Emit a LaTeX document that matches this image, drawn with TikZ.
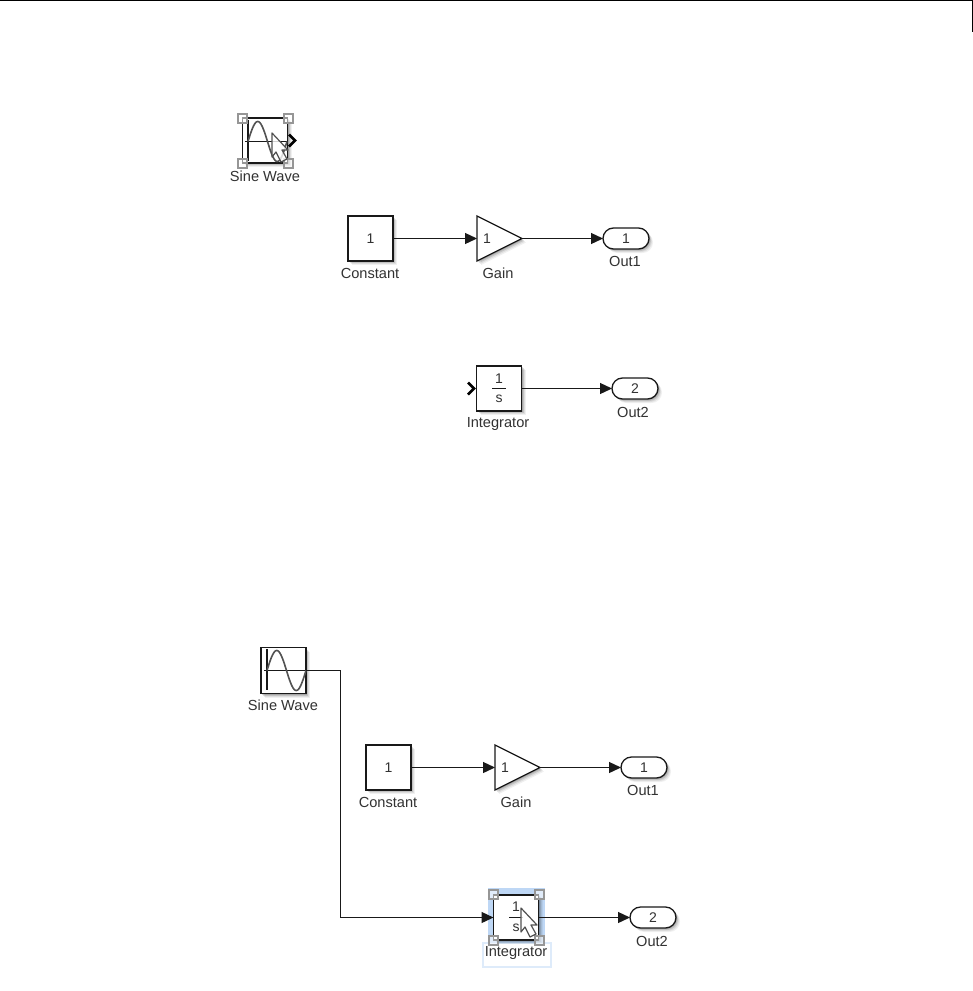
\documentclass[tikz,border=0pt]{standalone}
\usepackage{fontspec}
\setmainfont{Liberation Sans}
\usetikzlibrary{arrows.meta,shapes.geometric,shapes.misc,shadows}
\definecolor{inkc}{RGB}{25,25,25}
\definecolor{labelc}{RGB}{50,50,50}
\definecolor{handlec}{RGB}{150,150,150}
\definecolor{selblue}{RGB}{190,215,245}
\definecolor{selborder}{RGB}{222,235,250}
\tikzset{
  softshadow/.style={
    drop shadow={shadow xshift=4pt,shadow yshift=-4pt,fill=black,opacity=.06},
    drop shadow={shadow xshift=3pt,shadow yshift=-3pt,fill=black,opacity=.08},
    drop shadow={shadow xshift=2pt,shadow yshift=-2pt,fill=black,opacity=.12},
    drop shadow={shadow xshift=1pt,shadow yshift=-1pt,fill=black,opacity=.14}},
  blockbox/.style={draw=inkc,line width=1.3pt,fill=white,rectangle,inner sep=0pt,outer sep=0pt,
    minimum width=45pt,minimum height=45pt,softshadow,font=\fontsize{14}{16}\selectfont,text=labelc},
  gainbox/.style={draw=inkc,line width=1.3pt,fill=white,isosceles triangle,isosceles triangle stretches,
    inner sep=0pt,outer sep=0pt,minimum width=45pt,minimum height=45pt,anchor=apex,softshadow},
  portbox/.style={draw=inkc,line width=1.3pt,fill=white,rounded rectangle,inner sep=0pt,outer sep=0pt,
    minimum width=46pt,minimum height=21pt,softshadow,font=\fontsize{14}{16}\selectfont,text=labelc},
  caption/.style={font=\fontsize{14.6}{16}\selectfont,text=labelc,inner sep=0pt,yshift=-0.4pt},
  symbol/.style={font=\fontsize{14}{16}\selectfont,text=labelc,inner sep=0pt},
  wire/.style={line width=1.3pt,draw=inkc,-{Triangle[length=12pt,width=11pt]}},
  chevron/.style={line width=2.6pt,draw=black,miter limit=4},
  handle/.style={draw=handlec,line width=2pt,fill=white,fill opacity=.55,rectangle,inner sep=0pt,minimum size=9pt},
  pics/sineicon/.style={code={
    \draw[line width=1.3pt,draw=inkc] (6,2) -- (6,43);
    \draw[line width=1.3pt,draw=inkc] (3,23.5) -- (45,23.5);
    \draw[line width=1.6pt,draw=inkc!75] plot[domain=0:360,samples=61,smooth] ({6+\x/360*39},{23.5-20*sin(\x)});
  }},
  pics/cursor/.style={code={
    \draw[line width=1.2pt,draw=inkc!75,fill=white,fill opacity=.8,line join=round]
      (0,0) -- (16,17) -- (10,17) -- (15,26) -- (9,29) -- (4,19) -- (0,24) -- cycle;
  }}
}
\begin{document}
\begin{tikzpicture}[x=1pt,y=-1pt]
\useasboundingbox[fill=white] (0,0) rectangle (973,991);
% page rule
\draw[line width=1.2pt,draw=black] (0,0.6) -- (972.4,0.6) -- (972.4,32);

% ---- upper diagram ----
\node[blockbox] (sineA) at (265,140.5) {};
\pic at (242,118) {sineicon};
\node[caption] (sineAcap) at (265,176) {Sine Wave};
\draw[chevron] (sineA.east) ++(1.5,-6) -- ++(6,6) -- ++(-6,6);
\node[handle] (hA1) at (242,118) {};
\node[handle] (hA2) at (288,118) {};
\node[handle] (hA3) at (242,163) {};
\node[handle] (hA4) at (288,163) {};
\pic at (272,133) {cursor};

\node[blockbox] (constA) at (370.5,238.5) {};
\node[symbol] at (constA.center) {1};
\node[caption] (constAcap) at (370,273) {Constant};
\node[gainbox] (gainA) at (522,238.5) {};
\node[symbol] at (487,238.5) {1};
\node[caption] (gainAcap) at (498,273) {Gain};
\node[portbox] (outA) at (626,238.5) {1};
\node[caption] (outAcap) at (625,261) {Out1};
\draw[wire] (constA.east) -- (gainA.left corner |- constA.east);
\draw[wire] (gainA.apex) -- (outA.west);

\node[blockbox] (intA) at (499,388.5) {};
\node[symbol] at (499,378.5) {1};
\draw[line width=1pt,draw=inkc] (492,388.5) -- (506,388.5);
\node[symbol] at (499,398.5) {s};
\node[caption] (intAcap) at (498,424) {Integrator};
\node[portbox] (out2A) at (635,388.5) {2};
\node[caption] (out2Acap) at (633,412) {Out2};
\draw[wire] (intA.east) -- (out2A.west);
\draw[chevron] (intA.west) ++(-8.5,-6) -- ++(6,6) -- ++(-6,6);

% ---- lower diagram ----
\node[blockbox,minimum height=46pt] (sineB) at (283.5,670.5) {};
\pic at (261,647) {sineicon};
\node[caption] (sineBcap) at (283,705) {Sine Wave};

\node[blockbox] (constB) at (388.5,767.5) {};
\node[symbol] at (constB.center) {1};
\node[caption] (constBcap) at (388,802) {Constant};
\node[gainbox] (gainB) at (540,767.5) {};
\node[symbol] at (505,767.5) {1};
\node[caption] (gainBcap) at (516,802) {Gain};
\node[portbox] (outB) at (644,767.5) {1};
\node[caption] (outBcap) at (643,790) {Out1};
\draw[wire] (constB.east) -- (gainB.left corner |- constB.east);
\draw[wire] (gainB.apex) -- (outB.west);

\node[draw=selborder,line width=1.2pt,rectangle,inner sep=0pt,minimum width=68pt,minimum height=24pt] (intBsel) at (517,955) {};
\node[fill=selblue,rectangle,inner sep=0pt,minimum width=57pt,minimum height=55pt] (intBhl) at (516.5,915.5) {};
\node[blockbox] (intB) at (516,917.5) {};
\node[symbol] at (516,907) {1};
\draw[line width=1pt,draw=inkc] (509,917.5) -- (523,917.5);
\node[symbol] at (516,928) {s};
\node[caption] (intBcap) at (516,953) {Integrator};
\node[portbox] (out2B) at (653,917.5) {2};
\node[caption] (out2Bcap) at (652,941) {Out2};
\draw[wire] (intB.east) -- (out2B.west);
\coordinate (bend1) at (340.5,670.5);
\coordinate (bend2) at (340.5,917.5);
\draw[wire] (sineB.east) -- (bend1) -- (bend2) -- (intB.west);
\node[handle] (hB1) at (493,894) {};
\node[handle] (hB2) at (539,894) {};
\node[handle] (hB3) at (493,940) {};
\node[handle] (hB4) at (539,940) {};
\pic at (521,908) {cursor};
\end{tikzpicture}
\end{document}
